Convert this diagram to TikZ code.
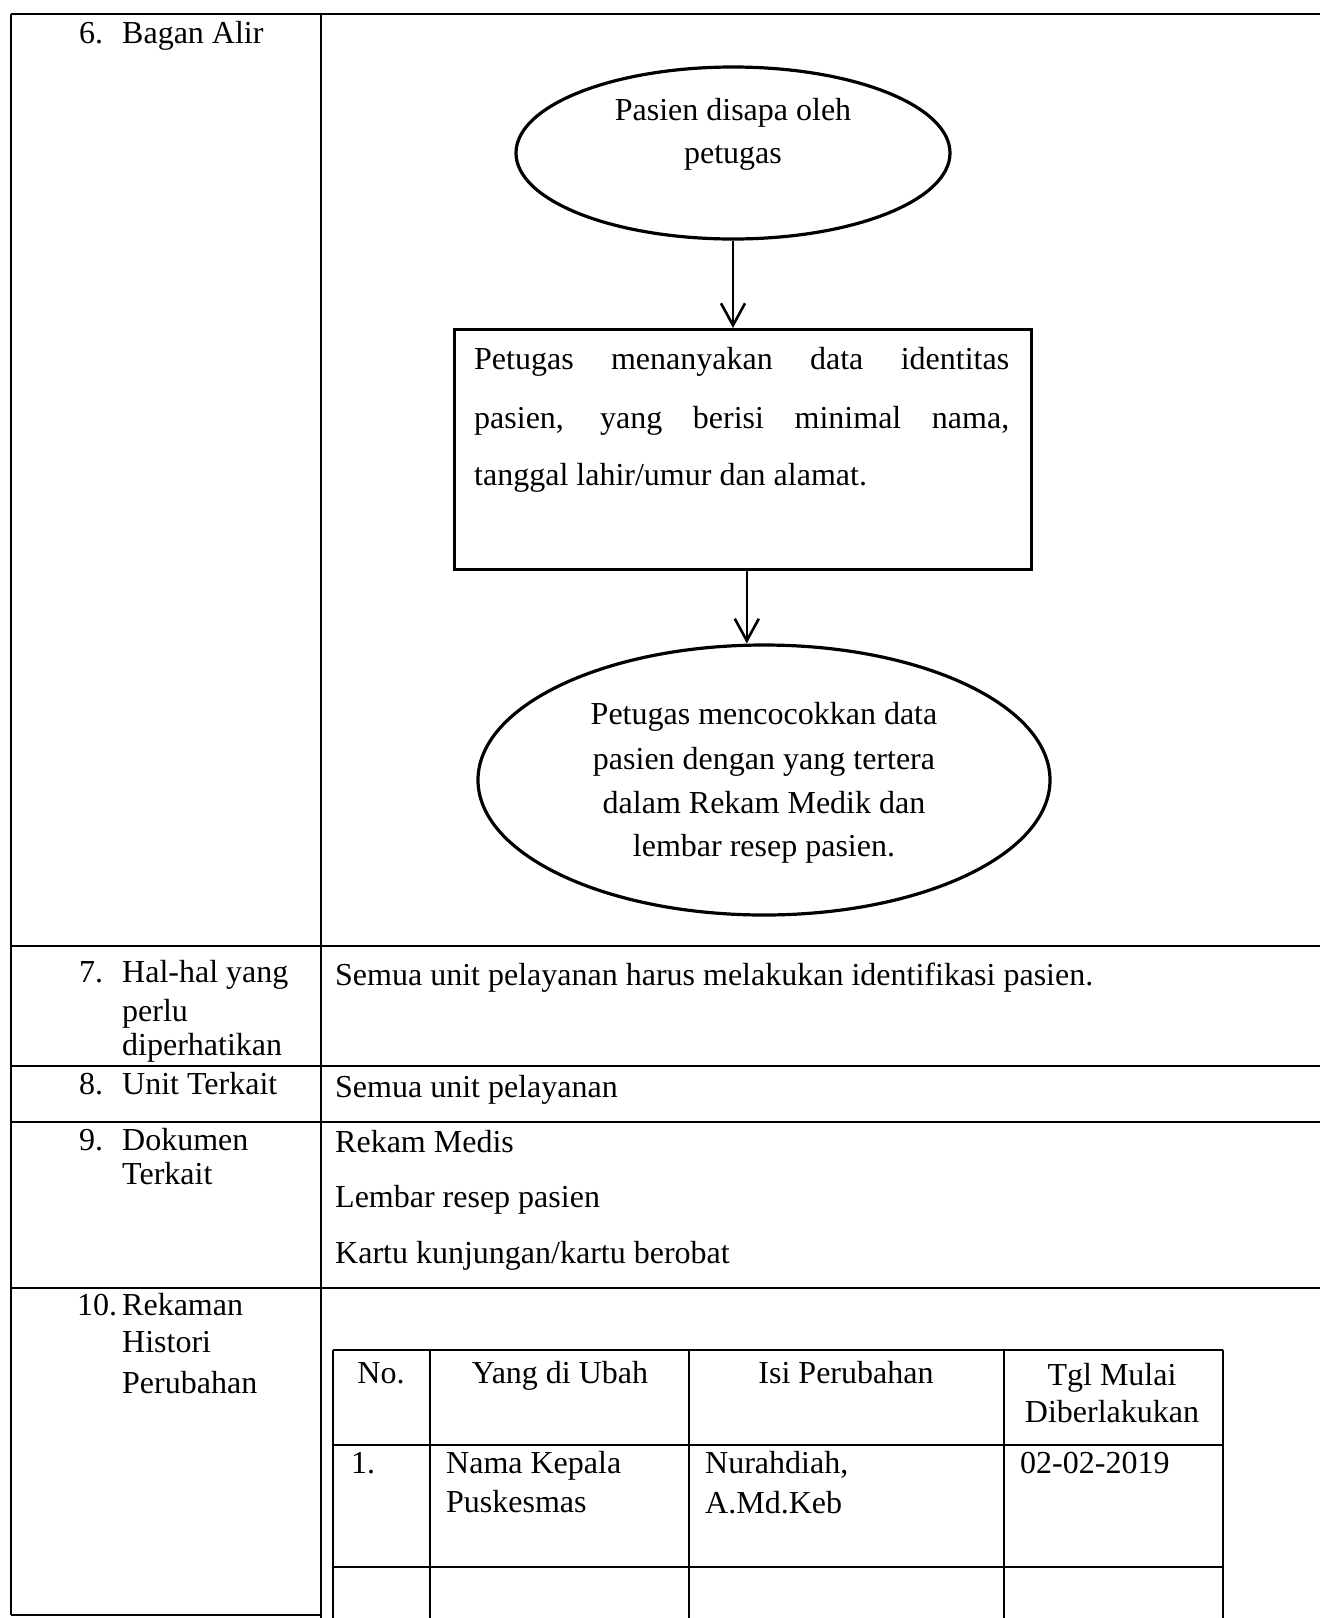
\documentclass[tikz,border=0pt]{standalone}
\usepackage{fontspec}
\setmainfont{Liberation Serif}
\usetikzlibrary{shapes.geometric,arrows.meta}
\tikzset{
  txt/.style={font=\fontsize{32}{38}\selectfont, inner sep=0pt, anchor=mid west, yshift=-8pt},
  txtc/.style={font=\fontsize{32}{38}\selectfont, inner sep=0pt, anchor=mid, yshift=-8pt},
  frame/.style={line width=2.6pt},
  shapeline/.style={line width=3.2pt},
  flow/.style={line width=2.6pt, -{Straight Barb[length=22pt,width=24pt,line width=2.6pt]}}
}
\begin{document}
\begin{tikzpicture}[x=1pt,y=-1pt]
\useasboundingbox (0,0) rectangle (1320,1618);
\fill[white] (0,0) rectangle (1320,1618);
% outer table
\draw[frame] (11,14) -- (1320,14);
\draw[frame] (11,14) -- (11,1615);
\draw[frame] (321,14) -- (321,1618);
\draw[frame] (11,946) -- (1320,946);
\draw[frame] (11,1066) -- (1320,1066);
\draw[frame] (11,1122) -- (1320,1122);
\draw[frame] (11,1288) -- (1320,1288);
\draw[frame] (11,1615) -- (321,1615);
% flowchart
\node[ellipse, draw, shapeline, minimum width=434pt, minimum height=172pt, inner sep=0pt] (e1) at (733,153) {};
\node[draw, frame, minimum width=577pt, minimum height=240pt, inner sep=0pt, anchor=north west] (box) at (453,328) {};
\node[ellipse, draw, shapeline, minimum width=572pt, minimum height=270pt, inner sep=0pt] (e2) at (764,780) {};
\draw[flow] (e1.south) -- (e1.south |- box.north);
\draw[flow] ([xshift=4pt]box.south) -- ([xshift=4pt]box.south |- e2.north);
\node[txtc] (e1a) at (733,110) {Pasien disapa oleh};
\node[txtc] (e1b) at (733,153) {petugas};
\node[txt] (b1) at (474,359) {\makebox[535pt][s]{Petugas menanyakan data identitas}};
\node[txt] (b2) at (474,418) {\makebox[535pt][s]{pasien, yang berisi minimal nama,}};
\node[txt] (b3) at (474,475) {tanggal lahir/umur dan alamat.};
\node[txtc] (e2a) at (764,714) {Petugas mencocokkan data};
\node[txtc] (e2b) at (764,759) {pasien dengan yang tertera};
\node[txtc] (e2c) at (764,803) {dalam Rekam Medik dan};
\node[txtc] (e2d) at (764,846) {lembar resep pasien.};
% left column
\node[txt] (n6) at (79,33) {6.};
\node[txt] (l6) at (122,33) {Bagan Alir};
\node[txt] (n7) at (79,972) {7.};
\node[txt] (l7a) at (122,972) {Hal-hal yang};
\node[txt] (l7b) at (122,1011) {perlu};
\node[txt] (l7c) at (122,1045) {diperhatikan};
\node[txt] (n8) at (79,1084) {8.};
\node[txt] (l8) at (122,1084) {Unit Terkait};
\node[txt] (n9) at (79,1140) {9.};
\node[txt] (l9a) at (122,1140) {Dokumen};
\node[txt] (l9b) at (122,1174) {Terkait};
\node[txt] (n10) at (77,1305) {10.};
\node[txt] (l10a) at (122,1305) {Rekaman};
\node[txt] (l10b) at (122,1342) {Histori};
\node[txt] (l10c) at (122,1383) {Perubahan};
% right column
\node[txt] (r7) at (335,975) {Semua unit pelayanan harus melakukan identifikasi pasien.};
\node[txt] (r8) at (335,1087) {Semua unit pelayanan};
\node[txt] (r9a) at (335,1142) {Rekam Medis};
\node[txt] (r9b) at (335,1197) {Lembar resep pasien};
\node[txt] (r9c) at (335,1253) {Kartu kunjungan/kartu berobat};
% inner table
\draw[frame] (333,1350) -- (1223,1350);
\draw[frame] (333,1445) -- (1223,1445);
\draw[frame] (333,1567) -- (1223,1567);
\foreach \cx in {333,430,689,1004,1223} {\draw[frame] (\cx,1350) -- (\cx,1618);}
\node[txtc] (h1) at (381,1373) {No.};
\node[txtc] (h2) at (560,1373) {Yang di Ubah};
\node[txtc] (h3) at (846,1373) {Isi Perubahan};
\node[txtc] (h4a) at (1112,1375) {Tgl Mulai};
\node[txtc] (h4b) at (1112,1412) {Diberlakukan};
\node[txt] (c1) at (351,1463) {1.};
\node[txt] (c2a) at (446,1463) {Nama Kepala};
\node[txt] (c2b) at (446,1502) {Puskesmas};
\node[txt] (c3a) at (705,1463) {Nurahdiah,};
\node[txt] (c3b) at (705,1503) {A.Md.Keb};
\node[txt] (c4) at (1020,1463) {02-02-2019};
\end{tikzpicture}
\end{document}
